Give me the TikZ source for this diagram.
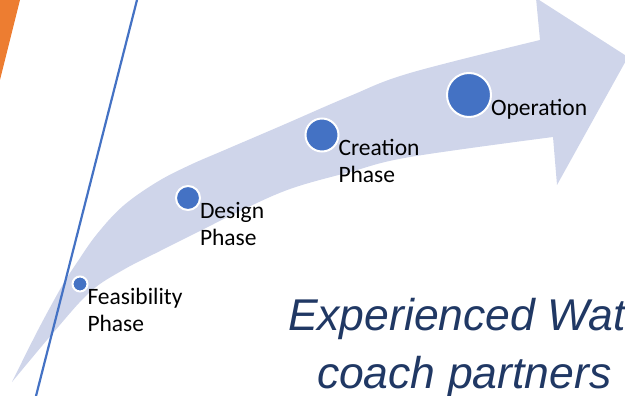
\documentclass[tikz,border=0pt]{standalone}
\usepackage{fontspec}
\setmainfont{Carlito}
\newfontfamily\quotefont{Liberation Sans}
\definecolor{bandfill}{HTML}{CFD5EA}
\definecolor{dotblue}{HTML}{4472C4}
\definecolor{accent}{HTML}{ED7D31}
\definecolor{quoteblue}{HTML}{203864}
\begin{document}
\begin{tikzpicture}[x=1pt,y=-1pt,inner sep=0pt,outer sep=0pt,
phase/.style={draw=white,fill=dotblue,circle,line width=2pt},
phaselabel/.style={anchor=north west,align=left,font=\fontsize{23.5}{27}\selectfont},
quote/.style={anchor=base west,text=quoteblue,font=\quotefont\itshape\fontsize{44.5}{58}\selectfont}]
\useasboundingbox (0,0) rectangle (625,396);
\fill[accent] (0,0) -- (20,0) -- (0,80) -- cycle;
% curved band with head
\fill[bandfill] plot[smooth,tension=0.6] coordinates {(12,382) (38,330) (62,286) (78,261) (97,234) (123,206) (157,182) (190,165) (227,149) (283,125) (350,96) (410,73) (540,40)}
  -- (536,-2) -- (628,57) -- (557,185)
  -- plot[smooth,tension=0.6] coordinates {(553,137) (410,157) (350,172) (290,189) (240,211) (200,231) (160,251) (123,270) (90,292) (53,333) (12,382)} -- cycle;
\draw[dotblue,line width=2.2pt] (137,0) -- (36,396);
\draw (80,284) node[phase,minimum size=15pt] (fea) {};
\draw (188,198) node[phase,minimum size=24pt] (des) {};
\draw (322,135) node[phase,minimum size=33pt] (cre) {};
\draw (469,95) node[phase,minimum size=44pt] (op) {};
\node[phaselabel] (feaT) at ([yshift=-4pt]fea.east) {Feasibility\\Phase};
\node[phaselabel] (desT) at ([yshift=-4pt]des.east) {Design\\Phase};
\node[phaselabel] (creT) at ([yshift=-4pt]cre.east) {Creation\\Phase};
\node[phaselabel] (opT) at ([yshift=-4pt]op.east) {Operation};
\node[quote] (q1) at (288,330) {Experienced Wat};
\node[quote] (q2) at (317,388) {coach partners};
\end{tikzpicture}
\end{document}
